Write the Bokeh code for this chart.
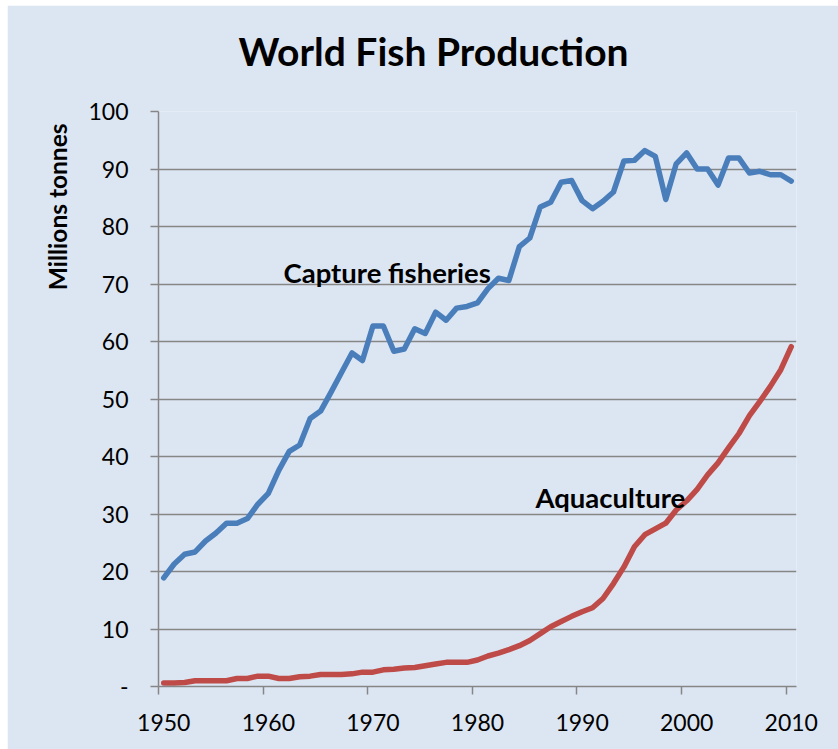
from bokeh.plotting import figure
from bokeh.models import Range1d, FixedTicker, Label, Title
from bokeh.embed import file_html
from bokeh.resources import INLINE

years = list(range(1950, 2011))
capture = [18.9, 21.3, 23.0, 23.4, 25.3, 26.7, 28.4, 28.4, 29.2, 31.7,
           33.6, 37.6, 40.9, 42.0, 46.6, 47.9, 51.2, 54.6, 58.0, 56.7,
           62.7, 62.7, 58.3, 58.7, 62.2, 61.4, 65.1, 63.7, 65.8, 66.1,
           66.7, 69.2, 71.0, 70.6, 76.5, 78.0, 83.4, 84.2, 87.7, 88.0,
           84.5, 83.1, 84.4, 86.0, 91.4, 91.5, 93.2, 92.2, 84.7, 90.9,
           92.8, 90.0, 90.0, 87.2, 91.9, 91.9, 89.3, 89.6, 89.0, 89.0,
           87.9]
aquaculture = [0.6, 0.6, 0.7, 1.0, 1.0, 1.0, 1.0, 1.4, 1.4, 1.8,
               1.8, 1.4, 1.4, 1.7, 1.8, 2.1, 2.1, 2.1, 2.2, 2.5,
               2.5, 2.9, 3.0, 3.2, 3.3, 3.6, 3.9, 4.2, 4.2, 4.2,
               4.6, 5.3, 5.8, 6.4, 7.1, 8.0, 9.2, 10.4, 11.3, 12.2,
               13.0, 13.7, 15.3, 17.9, 20.8, 24.3, 26.4, 27.4, 28.4, 30.7,
               32.3, 34.3, 36.8, 38.9, 41.5, 44.0, 47.1, 49.6, 52.2, 55.1,
               59.1]
y_ticks = [0, 10, 20, 30, 40, 50, 60, 70, 80, 90, 100]
x_ticks = [1950, 1960, 1970, 1980, 1990, 2000, 2010]

title_text = "World Fish Production"
y_label_text = "Millions tonnes"
capture_label = "Capture fisheries"
aqua_label = "Aquaculture"

BG = "#DCE6F2"
GRID = "#868686"
BLUE = "#4A7EBB"
RED = "#BE4B48"
FONT = "Lato"

p = figure(width=831, height=744, output_backend="svg", toolbar_location=None,
           x_range=Range1d(1949.5, 2010.5), y_range=Range1d(0, 100))
p.margin = (5, 0, 0, 7)
p.min_border_left = 151
p.min_border_right = 42
p.min_border_top = 106
p.min_border_bottom = 63
p.background_fill_color = BG
p.border_fill_color = BG
p.outline_line_color = None

p.line(years, capture, line_color=BLUE, line_width=5.5, line_join="round", line_cap="round")
p.line(years, aquaculture, line_color=RED, line_width=5.5, line_join="round", line_cap="round")

# y axis
p.yaxis.ticker = FixedTicker(ticks=y_ticks)
p.yaxis.major_label_overrides = {0: "-"}
p.yaxis.axis_line_color = GRID
p.yaxis.axis_line_width = 1.5
p.yaxis.major_tick_line_color = GRID
p.yaxis.major_tick_line_width = 1.5
p.yaxis.major_tick_out = 8
p.yaxis.major_tick_in = 0
p.yaxis.minor_tick_line_color = None
p.yaxis.major_label_standoff = 22
p.yaxis.major_label_text_font = FONT
p.yaxis.major_label_text_font_size = "23px"
p.yaxis.major_label_text_color = "black"

# x axis
p.xaxis.ticker = FixedTicker(ticks=x_ticks, minor_ticks=[t - 0.5 for t in x_ticks])
p.xaxis.axis_line_color = GRID
p.xaxis.axis_line_width = 1.5
p.xaxis.major_tick_line_color = None
p.xaxis.major_tick_out = 0
p.xaxis.major_tick_in = 0
p.xaxis.minor_tick_line_color = GRID
p.xaxis.minor_tick_line_width = 1.5
p.xaxis.minor_tick_out = 8
p.xaxis.minor_tick_in = 0
p.xaxis.major_label_standoff = 19
p.xaxis.major_label_text_font = FONT
p.xaxis.major_label_text_font_size = "23px"
p.xaxis.major_label_text_color = "black"

p.xgrid.visible = False
p.ygrid.grid_line_color = GRID
p.ygrid.grid_line_width = 1.5

# spacer between frame and title, then the title itself
p.add_layout(Title(text=" ", standoff=35, text_font_size="1px"), "above")
p.add_layout(Title(text=title_text, align="left", offset=80, standoff=0,
                   text_font=FONT, text_font_style="bold", text_font_size="39px",
                   text_color="black"), "above")
p.add_layout(Title(text=y_label_text, align="right", offset=12, standoff=28,
                   text_font=FONT, text_font_style="bold", text_font_size="24.5px",
                   text_color="black"), "left")

# series labels
p.add_layout(Label(x=1961.45, y=72.0, text=capture_label, text_font=FONT,
                   text_font_style="bold", text_font_size="27.5px", text_align="left",
                   text_baseline="alphabetic", text_color="black"))
p.add_layout(Label(x=1985.54, y=32.9, text=aqua_label, text_font=FONT,
                   text_font_style="bold", text_font_size="27.5px", text_align="left",
                   text_baseline="alphabetic", text_color="black"))

open("out.html", "w").write(file_html(p, INLINE))
